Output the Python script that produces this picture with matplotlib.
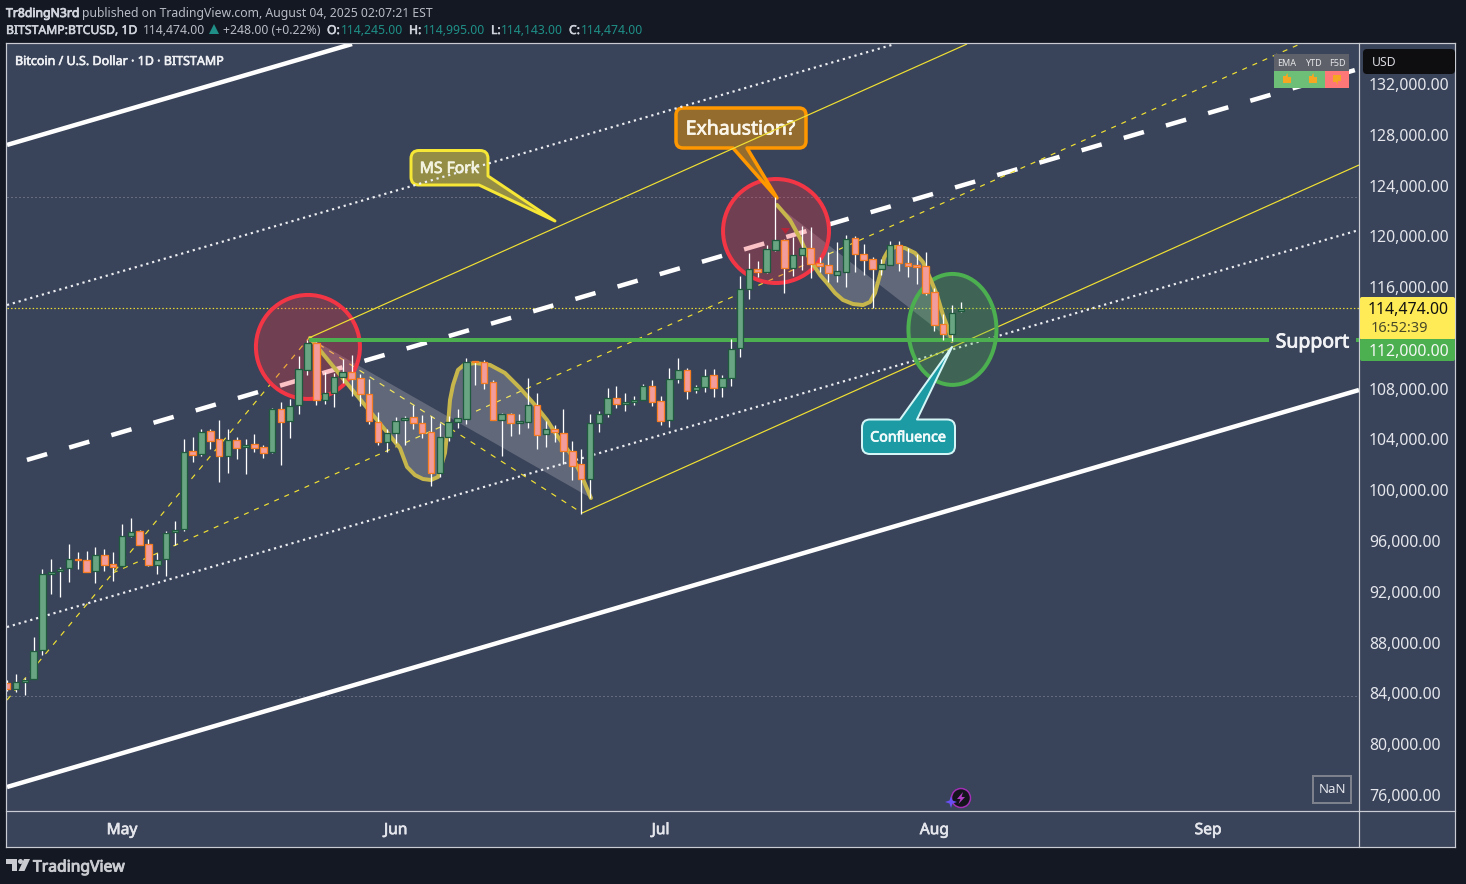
import numpy as np
import matplotlib
matplotlib.use("Agg")
import matplotlib.pyplot as plt
import matplotlib.patheffects as pe
from matplotlib.patches import Ellipse, Polygon, PathPatch, Rectangle, Circle, FancyBboxPatch
from matplotlib.path import Path
from matplotlib.transforms import Affine2D

W, H = 1466, 884
FONT = "Noto Sans"
plt.rcParams["font.family"] = [FONT, "DejaVu Sans"]

# ---- data: daily candles, thousands of USD, day 0 = May 1 ----
first_day = -13
opens = [84.80,84.33,84.93,85.11,87.42,93.38,93.62,93.86,94.57,94.49,93.62,94.88,94.17,
         94.01,96.43,96.77,95.75,94.15,94.57,96.69,96.95,103.07,102.84,104.65,104.02,102.67,103.93,103.38,103.62,103.38,
         102.99,106.37,105.43,106.69,109.50,111.57,107.14,107.63,108.92,109.29,108.81,107.61,105.40,103.83,104.48,
         105.51,105.75,105.28,104.57,101.39,104.23,105.41,105.64,110.16,110.13,108.51,105.57,105.99,105.33,105.41,
         106.69,104.46,104.80,104.49,103.12,102.05,100.87,105.28,105.99,107.24,106.82,106.93,107.14,108.19,107.00,
         105.51,108.74,109.45,107.87,108.11,109.05,108.11,108.82,111.18,115.83,117.40,117.22,118.95,119.69,117.54,
         118.51,119.06,117.88,117.72,116.98,117.22,119.85,118.61,118.19,117.46,117.77,119.29,117.88,117.72,117.64,
         115.59,113.07,112.34,114.10]
highs = [85.06,85.53,85.19,88.42,93.80,94.59,93.96,95.77,95.14,95.25,95.56,95.38,95.14,
         97.35,97.82,96.88,96.17,95.07,96.77,97.59,104.04,104.20,104.83,104.83,105.53,104.82,104.20,104.04,104.43,103.56,
         106.48,106.95,107.19,110.57,111.83,111.65,109.34,109.21,110.34,110.65,109.13,108.74,106.14,104.82,105.74,
         105.85,106.72,105.93,105.85,105.28,105.85,106.38,110.40,110.21,110.26,108.69,106.06,106.06,106.01,108.85,
         107.67,105.46,105.15,106.40,103.89,103.26,106.01,106.25,108.06,108.21,107.66,107.43,108.35,108.69,107.43,
         109.63,110.42,109.63,108.29,109.55,109.55,109.08,111.89,116.85,118.66,118.06,119.32,123.13,119.79,119.98,
         120.81,120.74,118.38,118.77,119.56,120.08,120.03,119.40,118.38,118.22,119.64,119.64,119.08,118.61,118.77,
         115.91,113.89,114.57,114.83]
lows = [84.22,84.14,83.88,85.11,87.03,91.84,91.63,92.78,93.80,93.59,92.73,93.65,92.86,
        94.00,96.35,95.70,94.07,93.41,93.25,95.70,96.82,102.23,102.73,103.23,100.65,101.36,102.46,101.28,103.01,102.54,
        102.93,101.99,104.12,106.01,109.08,106.72,106.82,106.56,108.42,107.42,106.66,105.22,103.56,103.01,103.72,
        103.54,104.83,104.15,100.37,101.08,103.89,104.91,105.22,108.30,107.98,105.54,102.73,104.28,104.44,104.88,
        103.26,103.41,103.81,102.07,100.81,98.14,99.37,104.59,105.78,106.48,106.24,106.72,107.14,106.66,105.14,
        104.98,108.45,107.19,107.66,107.74,107.35,107.35,108.21,110.53,115.07,116.80,117.12,118.87,115.54,116.88,
        117.35,116.75,117.20,116.41,116.41,116.04,117.20,116.96,114.36,116.96,117.77,117.27,116.80,116.25,115.38,
        112.57,111.87,111.79,114.04]
closes = [84.33,84.93,85.09,87.37,93.38,93.59,93.83,94.57,94.54,93.59,94.88,94.15,93.99,
          96.38,96.75,95.72,94.15,94.54,96.67,96.90,103.05,102.81,104.62,103.91,102.68,103.99,103.35,103.60,103.36,102.96,
          106.37,105.40,106.66,109.52,111.57,107.14,107.63,108.89,109.29,108.76,107.61,105.43,103.83,104.48,105.48,
          105.72,105.28,104.54,101.39,104.23,105.41,105.67,110.13,110.11,108.48,105.57,105.99,105.28,105.43,106.69,
          104.38,104.80,104.57,103.12,101.94,100.87,105.28,105.99,107.25,106.82,106.93,107.14,108.19,106.98,105.48,
          108.74,109.45,107.85,108.11,109.03,108.08,108.82,111.10,115.83,117.40,117.19,118.98,119.69,117.54,118.51,
          119.06,117.85,117.67,117.14,117.25,119.82,118.64,118.17,117.46,117.80,119.29,117.88,117.69,117.61,115.57,
          113.05,112.34,113.99,114.31]

# ---- data: chart drawings, (day, thousand USD) ----
white_upper = [(-13.02, 127.20), (26.05, 135.15)]
white_lower = [(-13.02, 76.63), (140.09, 107.90)]
white_median = [(-10.76, 102.39), (139.64, 133.10)]
dotted_upper = [(-13.02, 114.59), (87.54, 135.15)]
dotted_lower = [(-13.02, 89.23), (140.09, 120.50)]
fork_upper = [(21.18, 112.00), (95.70, 135.15)]
fork_lower = [(52.10, 98.21), (140.09, 125.62)]
fork_median = [(-1.02, 93.49), (133.41, 135.15)]
fork_handle = [(-13.02, 83.48), (21.18, 112.00)]
fork_cross = [(21.18, 112.00), (52.10, 98.21)]
level_high = 123.10
level_low = 83.80
level_last = 114.36
level_support = 111.84
support_start = 21.18
brush_one = [(21.29,112.0),(25.82,108.14),(31.48,103.33),(32.28,101.84),(33.18,101.20),(34.09,100.89),
             (34.99,100.81),(35.79,101.05),(36.58,102.94),(36.92,105.14),(37.15,107.11),(37.49,108.29),
             (38.05,109.48),(38.73,109.87),(39.98,110.03),(41.68,109.87),(43.37,109.24),(45.07,108.06),
             (46.77,106.72),(48.13,105.54),(49.38,104.20),(50.74,102.94),(51.87,101.44),(53.11,99.39)]
brush_two = [(74.18,122.47),(75.65,121.29),(76.78,119.87),(77.92,118.14),(79.05,116.96),(79.84,116.33),
             (80.75,115.54),(81.65,114.99),(82.79,114.67),(83.92,114.59),(84.71,114.83),(85.28,115.54),
             (85.84,116.96),(86.30,118.30),(86.75,118.85),(87.54,119.16),(88.67,119.08),(89.81,118.69),
             (90.71,117.98),(91.51,116.72),(92.30,115.38),(92.98,113.81),(93.54,112.78),(93.99,111.76)]
red_circles = [(21.06, 111.29, 11.78, 8.19), (74.07, 120.42, 12.00, 8.19)]
green_circle = (94.05, 112.67, 9.97, 8.74)

price_ticks = [76, 80, 84, 88, 92, 96, 100, 104, 108, 116, 120, 124, 128, 132]
month_days = [0, 31, 61, 92, 123]
month_names = ["May", "Jun", "Jul", "Aug", "Sep"]

# ---- colours ----
DARK = "#131822"
PANE = "#394359"
FRAME = "#c9ccd3"
UP_FILL, UP_EDGE = "#6aa583", "#1f5a3e"
DN_FILL, DN_EDGE = "#f29c9c", "#f67d22"
YEL = "#f0e034"
TXT = "#e4e6ec"


def px(v):
    return v * 0.72


def heavy(color, amount=0.45):
    """Thicken a font that has only one installed weight."""
    return [pe.withStroke(linewidth=amount, foreground=color)]


PX = Affine2D().scale(1, -1).translate(0, H)

fig = plt.figure(figsize=(W / 100, H / 100), dpi=100, facecolor=DARK)
fig.add_artist(Rectangle((6, 43), 1449, 804, transform=PX, fc=PANE, ec="none", zorder=-1))
ax = fig.add_axes([7 / W, (H - 811) / H, 1352 / W, 767 / H], facecolor=PANE)
ax.set_xlim(-13.02, 140.09)
ax.set_ylim(74.74, 135.15)
for s in ax.spines.values():
    s.set_visible(False)

ax.yaxis.tick_right()
ax.set_yticks(price_ticks)
ax.set_yticklabels([f"{t * 1000:,.2f}" for t in price_ticks])
ax.tick_params(axis="y", length=0, pad=7.2, labelsize=11.4, labelcolor=TXT)
ax.set_xticks(month_days)
ax.set_xticklabels(month_names)
ax.tick_params(axis="x", length=0, pad=8, labelsize=11.2, labelcolor=TXT)
for lab in ax.get_xticklabels():
    lab.set_path_effects(heavy(TXT, 0.5))


def seg(pts, **kw):
    xs, ys = zip(*pts)
    ax.plot(xs, ys, solid_capstyle="butt", dash_capstyle="butt", **kw)


# horizontal levels
ax.axhline(level_high, color="#8f94a3", lw=px(1), ls=(0, (1, 3)), zorder=1)
ax.axhline(level_low, color="#8f94a3", lw=px(1), ls=(0, (1, 3)), zorder=1)
ax.axhline(level_last, color=YEL, lw=px(1.2), ls=(0, (1.2, 1.8)), zorder=1)

# lines under the circles
seg(white_upper, color="white", lw=px(4.5), zorder=1.2)
seg(white_lower, color="white", lw=px(4.5), zorder=1.2)
seg(white_median, color="white", lw=px(4.5), ls=(0, (4.67, 5.1)), zorder=1.2)
seg(dotted_lower, color="#eceef2", lw=px(2.2), ls=(0, (1, 1.75)), zorder=1.2)
seg(fork_lower, color=YEL, lw=px(1.2), zorder=1.2)
seg(fork_median, color=YEL, lw=px(1.2), ls=(0, (4.2, 5)), zorder=1.2)
seg(fork_handle, color=YEL, lw=px(1.2), ls=(0, (4.6, 5.4)), zorder=1.2)
seg(fork_cross, color=YEL, lw=px(1.2), ls=(0, (4.6, 5.4)), zorder=1.2)

# brush strokes
for br in (brush_one, brush_two):
    ax.add_patch(Polygon(br, closed=True, fc=(1, 1, 1, 0.2), ec="none", zorder=1.6))
    xs, ys = zip(*br)
    ax.plot(xs, ys, color="#c6b64c", lw=px(4), solid_joinstyle="round", solid_capstyle="round", zorder=2.6)

# circles
for cx, cy, w, h in red_circles:
    ax.add_patch(Ellipse((cx, cy), w, h, fc=(0.95, 0.21, 0.27, 0.3), ec="#f23645", lw=px(4), zorder=2))
cx, cy, w, h = green_circle
ax.add_patch(Ellipse((cx, cy), w, h, fc=(0.30, 0.69, 0.31, 0.3), ec="#4caf50", lw=px(4), zorder=2))


def rounded(verts):
    """Closed outline through (x, y, corner radius) points, in pixels."""
    out, codes = [], []
    n = len(verts)
    for i, (x, y, r) in enumerate(verts):
        pa, pb = verts[i - 1], verts[(i + 1) % n]
        if r > 0:
            va = np.array([pa[0] - x, pa[1] - y], float)
            vb = np.array([pb[0] - x, pb[1] - y], float)
            a = np.array([x, y]) + va / np.linalg.norm(va) * r
            b = np.array([x, y]) + vb / np.linalg.norm(vb) * r
            out += [tuple(a), (x, y), tuple(b)]
            codes += [Path.LINETO, Path.CURVE3, Path.CURVE3]
        else:
            out.append((x, y))
            codes.append(Path.LINETO)
    codes[0] = Path.MOVETO
    out.append(out[0])
    codes.append(Path.CLOSEPOLY)
    return Path(out, codes)


def callout(verts, fc, ec, lw, text, cx, cy, size, color, z=2.8):
    ax.add_patch(PathPatch(rounded(verts), transform=PX, fc=fc, ec=ec, lw=px(lw), joinstyle="round", zorder=z))
    ax.text(cx, cy, text, transform=PX, ha="center", va="center_baseline", fontsize=size, color=color, zorder=z + 0.05,
            path_effects=heavy(color, 0.55))


callout([(411, 150.5, 8), (488, 150.5, 8), (488, 176, 0), (555, 221, 0), (479, 185, 0), (411, 185, 8)],
        "#938d46", "#f6e636", 3, "MS Fork", 449.5, 167, 11.3, "#f4f3df")
callout([(676, 108, 7), (806, 108, 7), (806, 148, 7), (747, 148, 0), (777, 198, 0), (733, 148, 0), (676, 148, 7)],
        "#946c2e", "#ff9800", 3.5, "Exhaustion?", 740.5, 127, 14, "#fbf6ea")
callout([(862, 419.5, 8), (900, 419.5, 0), (952, 347, 0), (917, 419.5, 0), (955, 419.5, 8), (955, 454, 8), (862, 454, 8)],
        "#1c9ba5", "#d5f6f6", 2, "Confluence", 908, 436, 10.3, "#f2fbfb", z=3.2)

# lines over the callouts
seg(dotted_upper, color="#eceef2", lw=px(2.2), ls=(0, (1, 1.75)), zorder=3)
seg(fork_upper, color=YEL, lw=px(1.2), zorder=3)

# support level
ax.plot([support_start, 140.09], [level_support] * 2, color="#4caf50", lw=px(4), solid_capstyle="butt", zorder=3.5)
ax.text(1312.5, 340, "Support", transform=PX, ha="center", va="center_baseline", fontsize=14, color="#f2f3f6",
        zorder=3.6, bbox=dict(fc=PANE, ec="none", boxstyle="square,pad=0.33"), path_effects=heavy("#f2f3f6", 0.6))

# candles
o, hi, lo, c = map(np.array, (opens, highs, lows, closes))
days = first_day + np.arange(len(o))
up = c >= o
ax.vlines(days, lo, hi, color="white", lw=px(1.3), zorder=4)
ax.bar(days, np.maximum(np.abs(c - o), 0.03), bottom=np.minimum(o, c), width=0.74,
       color=np.where(up, UP_FILL, DN_FILL), edgecolor=np.where(up, UP_EDGE, DN_EDGE), lw=px(1.3), zorder=4.2)

# small red marker above the exhaustion candle
ax.add_patch(Polygon([(781, 228), (790, 228), (785.5, 234)], transform=PX, fc="#b3263a", ec="none", zorder=4.5))


# ---- chrome around the panes (figure level) ----
def box(x, y, w, h, fc, ec="none", lw=0, z=5):
    fig.add_artist(Rectangle((x, y), w, h, transform=PX, fc=fc, ec=ec, lw=px(lw), zorder=z))


def rbox(x, y, w, h, fc, r=3, z=5):
    fig.add_artist(FancyBboxPatch((x + r, y + r), w - 2 * r, h - 2 * r, boxstyle=f"round,pad={r},rounding_size={r}",
                                  transform=PX, fc=fc, ec="none", zorder=z))


def txt(x, y, s, size, color, ha="left", thick=0.0, z=7):
    t = fig.text(x, y, s, transform=PX, fontsize=size, color=color, ha=ha, va="center_baseline", zorder=z)
    if thick:
        t.set_path_effects(heavy(color, thick))


for seg_x, seg_y in [((6, 1455), (43, 43)), ((6, 1455), (847, 847)), ((6, 6), (43, 847)),
                     ((1455, 1455), (43, 847)), ((1359, 1359), (43, 847)), ((6, 1455), (811, 811))]:
    fig.add_artist(plt.Line2D(seg_x, seg_y, transform=PX, color=FRAME, lw=px(1.2), zorder=5))

# header
txt(6, 12, "Tr8dingN3rd", 8.8, "#d1d4dc", thick=0.6)
txt(82, 12, "published on TradingView.com, August 04, 2025 02:07:21 EST", 8.8, "#b9bcc5")
txt(6, 29, "BITSTAMP:BTCUSD, 1D", 8.8, "#d1d4dc", thick=0.4)
txt(143, 29, "114,474.00", 8.8, "#b9bcc5")
fig.add_artist(Polygon([(209, 34), (219, 34), (214, 24)], transform=PX, fc="#1f8f87", ec="none", zorder=6))
txt(223, 29, "+248.00 (+0.22%)", 8.8, "#b9bcc5")
for lx, lab, vx, val in [(327, "O:", 341, "114,245.00"), (409, "H:", 423, "114,995.00"),
                         (491, "L:", 501, "114,143.00"), (569, "C:", 581, "114,474.00")]:
    txt(lx, 29, lab, 8.8, "#d1d4dc", thick=0.4)
    txt(vx, 29, val, 8.8, "#1f8f87")
txt(15, 60, "Bitcoin / U.S. Dollar · 1D · BITSTAMP", 9, "#eef0f4", thick=0.45)

# price labels
rbox(1363, 49, 92, 25, "#0e0e10", r=4)
txt(1372, 61.5, "USD", 8.8, "#d8dae0")
rbox(1360, 297, 95, 43, "#ffeb55", r=2)
txt(1449, 307.5, "114,474.00", 11.4, "#111111", ha="right")
txt(1371, 326, "16:52:39", 10.5, "#4a4a2a")
rbox(1360, 339, 95, 22, "#4caf50", r=2)
txt(1449, 349.5, "112,000.00", 11.4, "#f4f8f4", ha="right")

# widget
box(1274, 54, 75, 17, "#5e6169")
box(1274, 71, 51, 17, "#6dbf78")
box(1325, 71, 24, 17, "#ff7777")
for x, s in [(1287, "EMA"), (1313, "YTD"), (1337, "F5D")]:
    txt(x, 62.5, s, 6.5, "#e4e5e8", ha="center")
for x, sgn in [(1287, 1), (1313, 1), (1337, -1)]:
    fig.add_artist(Rectangle((x - 4, 76 if sgn > 0 else 75), 3, 7, transform=PX, fc="#f5a623", ec="none", zorder=6))
    thumb = [(x - 1, 83), (x + 4, 83), (x + 4, 77), (x + 1, 77), (x + 0.5, 73), (x - 1, 75)] if sgn > 0 else \
            [(x - 1, 75), (x + 4, 75), (x + 4, 81), (x + 1, 81), (x + 0.5, 85), (x - 1, 82)]
    fig.add_artist(Polygon(thumb, transform=PX, fc="#f5a623", ec="none", zorder=6))

# NaN box and bolt badge
fig.add_artist(Rectangle((1313, 776), 38, 27, transform=PX, fc=PANE, ec="#7d818c", lw=px(2), zorder=5))
txt(1332, 788, "NaN", 9.5, "#e4e6ec", ha="center")
fig.add_artist(Circle((961, 798), 9.5, transform=PX, fc="#14141c", ec="#a32fb5", lw=px(1.5), zorder=6))
fig.add_artist(Polygon([(963, 792), (957, 799), (960.5, 799), (958.5, 804), (965, 797), (961.5, 797)], transform=PX,
                       fc="#b13cc4", ec="none", zorder=7))
fig.add_artist(Polygon([(951, 796), (952.5, 800.5), (957, 802), (952.5, 803.5), (951, 808), (949.5, 803.5), (945, 802),
                        (949.5, 800.5)], transform=PX, fc="#6a4ff5", ec="none", zorder=7))

# footer logo
LOGO = "#c9cbd1"
fig.add_artist(Polygon([(6, 859), (17, 859), (17, 871), (12, 871), (12, 864), (6, 864)], transform=PX, fc=LOGO, ec="none", zorder=6))
fig.add_artist(Circle((20.5, 861.5), 2.5, transform=PX, fc=LOGO, ec="none", zorder=6))
fig.add_artist(Polygon([(24, 859), (30, 859), (24.5, 871), (18.5, 871)], transform=PX, fc=LOGO, ec="none", zorder=6))
txt(33, 865.5, "TradingView", 11.3, LOGO, thick=0.7)

fig.savefig("out.png", dpi=100, facecolor=DARK)
